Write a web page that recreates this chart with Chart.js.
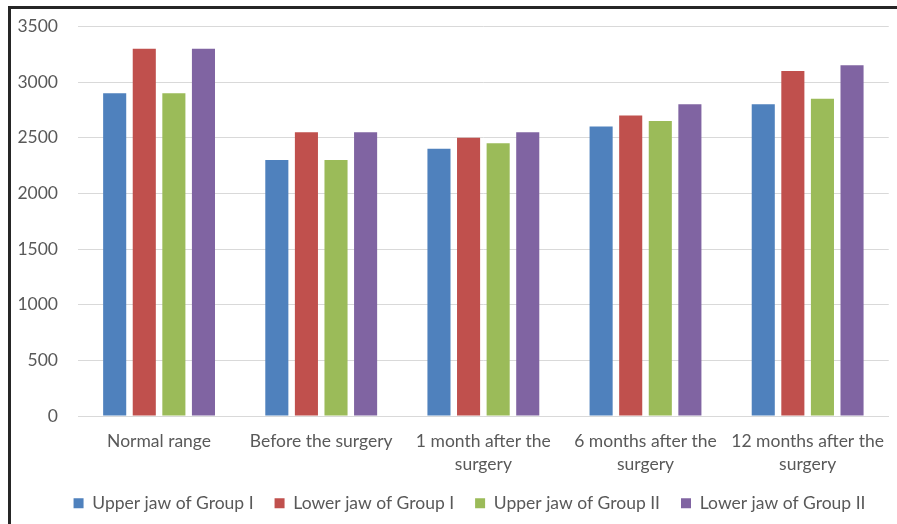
<!DOCTYPE html>
<html>
<head>
<meta charset="utf-8">
<script src="https://cdn.jsdelivr.net/npm/chart.js@4"></script>
<style>
  html, body { margin: 0; padding: 0; background: #fff; overflow: hidden; width: 897px; height: 524px; }
  #frame {
    position: absolute; left: 8px; top: 6px; width: 889px; height: 518px;
    border-top: 3px solid #262626; border-left: 3px solid #262626; box-sizing: border-box;
  }
  #wrap { position: absolute; left: 11px; top: -5px; width: 887px; height: 543px; }
</style>
</head>
<body>
<div id="frame"></div>
<div id="wrap"><canvas id="chart"></canvas></div>
<script>
// categories and series
const categories = [
    'Normal range',
    'Before the surgery',
    ['1 month after the', 'surgery'],
    ['6 months after the', 'surgery'],
    ['12 months after the', 'surgery']
];
const upperJawGroupI  = [2900, 2300, 2400, 2600, 2800];
const lowerJawGroupI  = [3300, 2550, 2500, 2700, 3100];
const upperJawGroupII = [2900, 2300, 2450, 2650, 2850];
const lowerJawGroupII = [3300, 2550, 2550, 2800, 3150];
const yTicks = [0, 500, 1000, 1500, 2000, 2500, 3000, 3500];

const textColor = '#595959';
const font = { family: 'Lato, "Open Sans", sans-serif', size: 17.5, lineHeight: 1.3 };

function series(label, data, color) {
    return { label: label, data: data, backgroundColor: color, borderWidth: 0,
             categoryPercentage: 0.73, barPercentage: 0.78 };
}

// the original legend sits a bit right of centre and closer to the axis labels
const legendShift = {
    id: 'legendShift',
    afterLayout: (chart) => {
        const lg = chart.legend;
        lg.left += 15; lg.right += 15;
        lg.top -= 16; lg.bottom -= 16;
    }
};

new Chart(document.getElementById('chart'), {
    type: 'bar',
    data: {
        labels: categories,
        datasets: [
            series('Upper jaw of Group I', upperJawGroupI, '#4f81bd'),
            series('Lower jaw of Group I', lowerJawGroupI, '#c0504d'),
            series('Upper jaw of Group II', upperJawGroupII, '#9bbb59'),
            series('Lower jaw of Group II', lowerJawGroupII, '#8064a2')
        ]
    },
    options: {
        responsive: true,
        maintainAspectRatio: false,
        animation: false,
        layout: { padding: 0 },
        plugins: {
            legend: {
                position: 'bottom',
                labels: { color: textColor, font: font, boxWidth: 10, boxHeight: 10, padding: 21 }
            },
            tooltip: { enabled: false }
        },
        scales: {
            x: {
                grid: { display: false, drawTicks: false },
                border: { color: '#d9d9d9' },
                ticks: { color: textColor, font: font, padding: 14, maxRotation: 0, autoSkip: false }
            },
            y: {
                min: 0, max: 3500,
                afterBuildTicks: (axis) => { axis.ticks = yTicks.map(v => ({ value: v })); },
                afterFit: (axis) => { axis.width = 67; },
                grid: { color: '#d9d9d9', drawTicks: false },
                border: { display: false },
                ticks: { color: textColor, font: font, padding: 20, callback: (v) => String(v) }
            }
        }
    },
    plugins: [legendShift]
});
</script>
</body>
</html>
